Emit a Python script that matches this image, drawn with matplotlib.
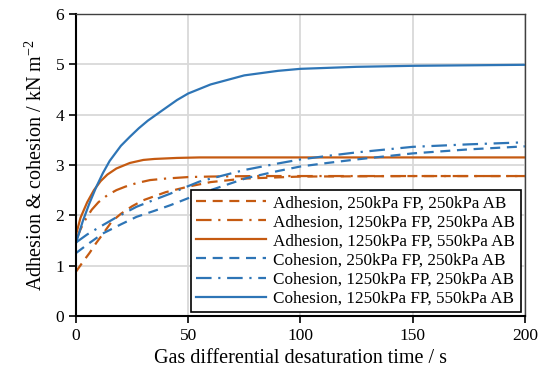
import matplotlib
matplotlib.use("Agg")
import matplotlib.pyplot as plt

plt.rcParams['font.family'] = ['Liberation Serif', 'DejaVu Serif']
plt.rcParams['mathtext.default'] = 'regular'

ORANGE = '#C55A11'
BLUE = '#2E75B6'

# Adhesion, 250kPa FP, 250kPa AB
adh1_x = [0, 3, 6, 9, 12, 16, 20, 25, 30, 40, 50, 60, 75, 100, 150, 200]
adh1_y = [0.88, 1.07, 1.25, 1.45, 1.63, 1.88, 2.03, 2.18, 2.30, 2.46, 2.57, 2.66, 2.73, 2.77, 2.78, 2.78]

# Adhesion, 1250kPa FP, 250kPa AB
adh2_x = [0, 2, 4, 7, 10, 14, 18, 22, 27, 33, 40, 50, 60, 80, 100, 150, 200]
adh2_y = [1.50, 1.72, 1.90, 2.11, 2.26, 2.40, 2.50, 2.57, 2.64, 2.70, 2.73, 2.76, 2.77, 2.78, 2.78, 2.78, 2.78]

# Adhesion, 1250kPa FP, 550kPa AB
adh3_x = [0, 2, 5, 8, 11, 14, 18, 24, 30, 35, 45, 55, 75, 100, 150, 200]
adh3_y = [1.61, 1.95, 2.26, 2.50, 2.68, 2.81, 2.93, 3.04, 3.10, 3.12, 3.14, 3.15, 3.15, 3.15, 3.15, 3.15]

# Cohesion, 250kPa FP, 250kPa AB
coh1_x = [0, 6, 12, 20, 27, 35, 42, 50, 60, 76, 90, 100, 112, 125, 150, 175, 200]
coh1_y = [1.25, 1.45, 1.64, 1.82, 1.97, 2.09, 2.20, 2.34, 2.50, 2.74, 2.88, 2.97, 3.04, 3.11, 3.23, 3.31, 3.37]

# Cohesion, 1250kPa FP, 250kPa AB
coh2_x = [0, 5, 11, 18, 27, 35, 42, 50, 55, 61, 75, 90, 100, 112, 125, 150, 175, 200]
coh2_y = [1.46, 1.62, 1.78, 1.96, 2.17, 2.31, 2.43, 2.58, 2.67, 2.74, 2.90, 3.03, 3.11, 3.18, 3.25, 3.36, 3.41, 3.45]

# Cohesion, 1250kPa FP, 550kPa AB
coh3_x = [0, 3, 6, 9, 12, 15, 20, 24, 28, 32, 38, 45, 50, 60, 75, 90, 100, 125, 150, 175, 200]
coh3_y = [1.45, 1.88, 2.24, 2.56, 2.84, 3.08, 3.38, 3.56, 3.73, 3.88, 4.07, 4.29, 4.42, 4.60, 4.78, 4.87, 4.91, 4.95, 4.97, 4.98, 4.99]

labels = [
    'Adhesion, 250kPa FP, 250kPa AB',
    'Adhesion, 1250kPa FP, 250kPa AB',
    'Adhesion, 1250kPa FP, 550kPa AB',
    'Cohesion, 250kPa FP, 250kPa AB',
    'Cohesion, 1250kPa FP, 250kPa AB',
    'Cohesion, 1250kPa FP, 550kPa AB',
]

x_ticks = [0, 50, 100, 150, 200]
y_ticks = [0, 1, 2, 3, 4, 5, 6]

fig = plt.figure(figsize=(5.49, 3.88), dpi=100)
ax = fig.add_axes([0.1384, 0.1856, 0.8176, 0.7784])

dashed = (0, (4.5, 3))
dashdot = (0, (7, 3, 1, 3))
lw = 1.6

ax.plot(adh1_x, adh1_y, color=ORANGE, lw=lw, linestyle=dashed, label=labels[0])
ax.plot(adh2_x, adh2_y, color=ORANGE, lw=lw, linestyle=dashdot, label=labels[1])
ax.plot(adh3_x, adh3_y, color=ORANGE, lw=lw, linestyle='-', label=labels[2])
ax.plot(coh1_x, coh1_y, color=BLUE, lw=lw, linestyle=dashed, label=labels[3])
ax.plot(coh2_x, coh2_y, color=BLUE, lw=lw, linestyle=dashdot, label=labels[4])
ax.plot(coh3_x, coh3_y, color=BLUE, lw=lw, linestyle='-', label=labels[5])

ax.set_xlim(0, 200)
ax.set_ylim(0, 6)
ax.set_xticks(x_ticks)
ax.set_yticks(y_ticks)
ax.grid(True, color='#D9D9D9', lw=1.3)
ax.set_axisbelow(True)

for s in ['left', 'bottom']:
    ax.spines[s].set_color('black')
    ax.spines[s].set_linewidth(1.5)
for s in ['top', 'right']:
    ax.spines[s].set_color('#404040')
    ax.spines[s].set_linewidth(1.0)

ax.tick_params(axis='both', direction='out', length=5, width=1.2, labelsize=12.5, colors='black')
ax.set_xlabel('Gas differential desaturation time / s', fontsize=14.5, labelpad=4)
ax.set_ylabel(r'Adhesion & cohesion / kN m$^{-2}$', fontsize=14.5, labelpad=6)

leg = ax.legend(loc='lower right', fontsize=12.3, frameon=True, fancybox=False,
                edgecolor='black', framealpha=1, borderpad=0.3, labelspacing=0.18,
                handlelength=4.1, handletextpad=0.45, borderaxespad=0.25)
leg.get_frame().set_linewidth(1.2)

fig.savefig('out.png', dpi=100)
